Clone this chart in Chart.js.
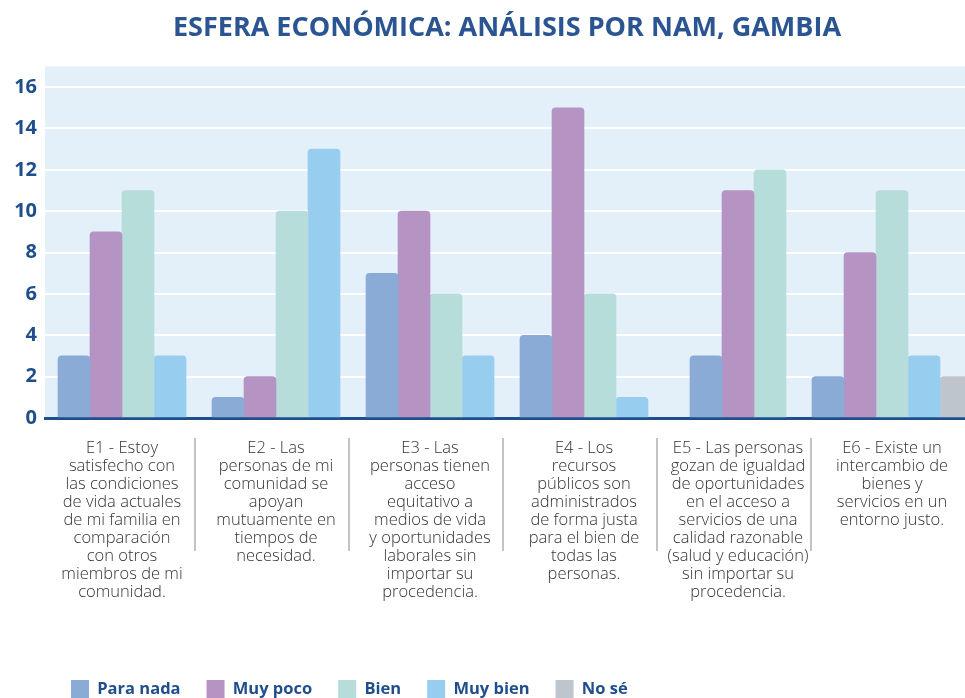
<!DOCTYPE html>
<html lang="es">
<head>
<meta charset="utf-8">
<title>Esfera económica - NAM, Gambia</title>
<script src="https://cdn.jsdelivr.net/npm/chart.js@4.4.1/dist/chart.umd.min.js"></script>
<style>
    html, body { margin: 0; padding: 0; overflow: hidden; background: #ffffff; }
    #wrap { width: 975px; height: 708px; position: relative; }
</style>
</head>
<body>
<div id="wrap"><canvas id="chart"></canvas></div>
<script>
// Categorías (etiquetas del eje X, una línea por elemento)
const categories = [
    ['E1 - Estoy', 'satisfecho con', 'las condiciones', 'de vida actuales', 'de mi familia en', 'comparación', 'con otros', 'miembros de mi', 'comunidad.'],
    ['E2 - Las', 'personas de mi', 'comunidad se', 'apoyan', 'mutuamente en', 'tiempos de', 'necesidad.'],
    ['E3 - Las', 'personas tienen', 'acceso', 'equitativo a', 'medios de vida', 'y oportunidades', 'laborales sin', 'importar su', 'procedencia.'],
    ['E4 - Los', 'recursos', 'públicos son', 'administrados', 'de forma justa', 'para el bien de', 'todas las', 'personas.'],
    ['E5 - Las personas', 'gozan de igualdad', 'de oportunidades', 'en el acceso a', 'servicios de una', 'calidad razonable', '(salud y educación)', 'sin importar su', 'procedencia.'],
    ['E6 - Existe un', 'intercambio de', 'bienes y', 'servicios en un', 'entorno justo.']
];

// Series (null = sin barra)
const paraNada = [3, 1, 7, 4, 3, 2];
const muyPoco  = [9, 2, 10, 15, 11, 8];
const bien     = [11, 10, 6, 6, 12, 11];
const muyBien  = [3, 13, 3, 1, null, 3];
const noSe     = [null, null, null, null, null, 2];

const yTicks = [0, 2, 4, 6, 8, 10, 12, 14, 16];

const darkBlue = '#1f4e8c';

// fondo azul claro del área de trazado
const plotBackground = {
    id: 'plotBackground',
    beforeDraw(chart) {
        const { ctx, chartArea } = chart;
        ctx.save();
        ctx.fillStyle = '#e3eff9';
        ctx.fillRect(chartArea.left, chartArea.top, chartArea.right - chartArea.left, chartArea.bottom - chartArea.top);
        ctx.restore();
    }
};

// separadores grises entre etiquetas
const separators = {
    id: 'separators',
    afterDraw(chart) {
        const { ctx, chartArea } = chart;
        const x = chart.scales.x;
        ctx.save();
        ctx.strokeStyle = '#c4c4c4';
        ctx.lineWidth = 2;
        for (let i = 0; i < categories.length - 1; i++) {
            const px = Math.round((x.getPixelForTick(i) + x.getPixelForTick(i + 1)) / 2) - 4;
            ctx.beginPath();
            ctx.moveTo(px, chartArea.bottom + 20);
            ctx.lineTo(px, chartArea.bottom + 133);
            ctx.stroke();
        }
        ctx.restore();
    }
};

const barStyle = {
    borderRadius: 4,
    borderSkipped: 'start',
    borderWidth: 0
};

const ctx = document.getElementById('chart').getContext('2d');
new Chart(ctx, {
    type: 'bar',
    data: {
        labels: categories,
        datasets: [
            { label: 'Para nada', data: paraNada, backgroundColor: '#8babd7', ...barStyle },
            { label: 'Muy poco', data: muyPoco, backgroundColor: '#b593c3', ...barStyle },
            { label: 'Bien', data: bien, backgroundColor: '#b7dddb', ...barStyle },
            { label: 'Muy bien', data: muyBien, backgroundColor: '#97cdee', ...barStyle },
            { label: 'No sé', data: noSe, backgroundColor: '#bfc5cc', ...barStyle }
        ]
    },
    options: {
        responsive: true,
        maintainAspectRatio: false,
        animation: false,
        skipNull: true,
        barThickness: 32,
        layout: { padding: { right: 6 } },
        plugins: {
            title: {
                display: true,
                fullSize: false,
                text: 'ESFERA ECONÓMICA: ANÁLISIS POR NAM, GAMBIA',
                color: '#2a5592',
                font: { family: 'Open Sans', size: 27, weight: 'bold', lineHeight: 1.2 },
                padding: { top: 12, bottom: 22 }
            },
            legend: {
                position: 'bottom',
                align: 'start',
                fullSize: false,
                labels: {
                    boxWidth: 18,
                    boxHeight: 18,
                    padding: 26,
                    color: darkBlue,
                    font: { family: 'Open Sans', size: 16.5, weight: 'bold' }
                }
            },
            tooltip: { enabled: false }
        },
        scales: {
            x: {
                z: 1,
                grid: { display: false },
                border: { display: true, color: darkBlue, width: 3 },
                ticks: {
                    padding: 13,
                    maxRotation: 0,
                    autoSkip: false,
                    color: '#333333',
                    font: { family: 'Open Sans', size: 16.5, weight: '300', lineHeight: '18px' }
                },
                afterFit(axis) {
                    axis.height += 40;
                }
            },
            y: {
                min: 0,
                max: 17,
                border: { display: false },
                grid: {
                    drawTicks: false,
                    lineWidth: 2,
                    color: c => (c.tick && c.tick.value === 0) ? 'rgba(0,0,0,0)' : '#ffffff'
                },
                ticks: {
                    padding: 8,
                    color: darkBlue,
                    font: { family: 'Open Sans', size: 20, weight: 'bold' }
                },
                afterBuildTicks(axis) {
                    axis.ticks = yTicks.map(v => ({ value: v }));
                },
                afterFit(axis) {
                    axis.width = 45;
                }
            }
        }
    },
    plugins: [plotBackground, separators]
});
</script>
</body>
</html>
